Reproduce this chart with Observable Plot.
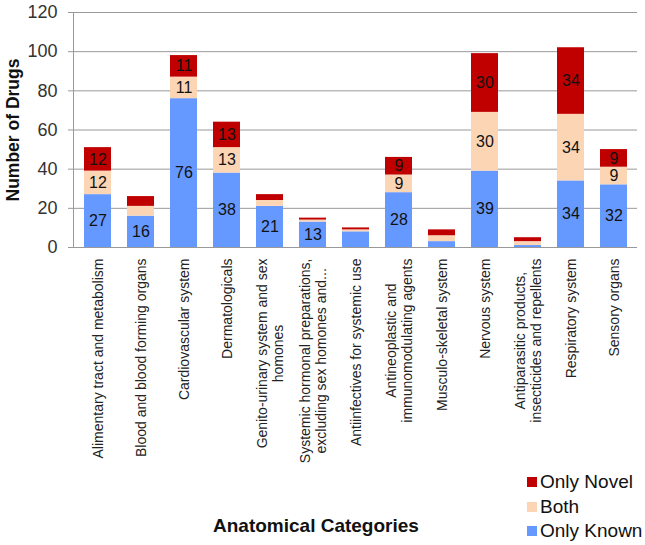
<!DOCTYPE html>
<html>
<head>
<meta charset="utf-8">
<script src="https://cdn.jsdelivr.net/npm/d3@7"></script>
<script src="https://cdn.jsdelivr.net/npm/@observablehq/plot@0.6"></script>
<style>
  html, body { margin: 0; padding: 0; background: #fff; }
  #wrap { position: relative; width: 645px; height: 545px; font-family: "Liberation Sans", Arial, sans-serif; }
  #legend { position: absolute; left: 527px; top: 470px; font-size: 19px; color: #111; line-height: 24.5px; }
  #legend .item { display: flex; align-items: center; }
  #legend .sw { width: 10px; height: 10px; margin-right: 3px; }
  #xtitle { position: absolute; top: 515px; font-weight: bold; font-size: 19px; color: #111; }
</style>
</head>
<body>
<div id="wrap"></div>
<script>
const categories = [
  "Alimentary tract and metabolism",
  "Blood and blood forming organs",
  "Cardiovascular system",
  "Dermatologicals",
  "Genito-urinary system and sex\nhomones",
  "Systemic hormonal preparations,\nexcluding sex homones and...",
  "Antiinfectives for systemic use",
  "Antineoplastic and\nimmunomodulating agents",
  "Musculo-skeletal system",
  "Nervous system",
  "Antiparasitic products,\ninsecticides and repellents",
  "Respiratory system",
  "Sensory organs"
];
const onlyKnown = [27, 16, 76, 38, 21, 13, 8, 28, 3, 39, 1, 34, 32];
const both      = [12, 5, 11, 13, 3, 1, 1, 9, 3, 30, 2, 34, 9];
const onlyNovel = [12, 5, 11, 13, 3, 1, 1, 9, 3, 30, 2, 34, 9];
const seriesNames = ["Only Known", "Both", "Only Novel"];
const seriesColors = ["#6699FF", "#FCD5B5", "#C00000"];
const yTicks = [0, 20, 40, 60, 80, 100, 120];
const yLabel = "Number of Drugs";
const xLabel = "Anatomical Categories";

const seriesValues = [onlyKnown, both, onlyNovel];
const rows = [];
categories.forEach((c, i) => {
  seriesNames.forEach((s, j) => rows.push({category: c, series: s, value: seriesValues[j][i]}));
});

const chart = Plot.plot({
  width: 645,
  height: 545,
  marginLeft: 73,
  marginRight: 8,
  marginTop: 12,
  marginBottom: 298,
  style: {fontFamily: "'Liberation Sans', Arial, sans-serif", background: "transparent", overflow: "visible"},
  x: {domain: categories, paddingInner: 0.38, paddingOuter: 0.2, axis: null},
  y: {domain: [0, 120], axis: null},
  color: {domain: seriesNames, range: seriesColors},
  marks: [
    Plot.gridY(yTicks, {stroke: "#999", strokeOpacity: 1}),
    Plot.frame({anchor: "left", stroke: "#999"}),
    Plot.axisY(yTicks, {tickSize: 5, tickPadding: 11, fontSize: 18, stroke: "#999", fill: "#333", label: null}),
    Plot.barY(rows, {x: "category", y: "value", fill: "series"}),
    Plot.text(rows, Plot.stackY({x: "category", y: "value", z: "series",
      text: d => d.value >= 9 ? String(d.value) : "", fontSize: 16, fill: "#111"})),
    Plot.ruleY([0], {stroke: "#999"}),
    Plot.axisX({tickRotate: -90, tickSize: 0, tickPadding: 11, fontSize: 14, lineHeight: 1.15, fill: "#222", label: null}),
    Plot.text([yLabel], {frameAnchor: "left", textAnchor: "middle", rotate: -90, dx: -60, text: d => d,
      fontSize: 17.5, fontWeight: "bold", fill: "#111"})
  ]
});

const wrap = document.getElementById("wrap");
wrap.appendChild(chart);

// center the lines of multi-line category labels, as in the original
d3.select(chart).selectAll("g[aria-label='x-axis tick label'] text").each(function() {
  const tspans = this.querySelectorAll("tspan");
  if (tspans.length < 2) return;
  let w = 0;
  tspans.forEach(t => { w = Math.max(w, t.getComputedTextLength()); });
  this.setAttribute("text-anchor", "middle");
  tspans.forEach(t => t.setAttribute("x", -w / 2));
});

// legend
const legend = document.createElement("div");
legend.id = "legend";
[...seriesNames].reverse().forEach(s => {
  const item = document.createElement("div");
  item.className = "item";
  const sw = document.createElement("span");
  sw.className = "sw";
  sw.style.background = seriesColors[seriesNames.indexOf(s)];
  item.appendChild(sw);
  item.appendChild(document.createTextNode(s));
  legend.appendChild(item);
});
wrap.appendChild(legend);

// x-axis title
const xt = document.createElement("div");
xt.id = "xtitle";
xt.textContent = xLabel;
wrap.appendChild(xt);
xt.style.left = (316 - xt.offsetWidth / 2) + "px";
</script>
</body>
</html>
